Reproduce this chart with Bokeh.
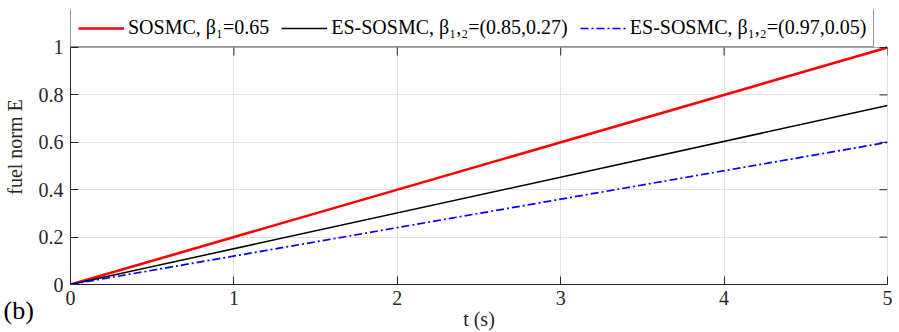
import math
from bokeh.plotting import figure
from bokeh.models import (Legend, LegendItem, FixedTicker, Range1d, Title, BoxAnnotation)
from bokeh.embed import file_html
from bokeh.resources import INLINE

# ---- data ----
t = [0, 5]
sosmc = [0, 1.0]
es_sosmc_a = [0, 0.755]
es_sosmc_b = [0, 0.60]
x_ticks = [0, 1, 2, 3, 4, 5]
x_tick_labels = ["0", "1", "2", "3", "4", "5"]
y_ticks = [0, 0.2, 0.4, 0.6, 0.8, 1.0]
y_tick_labels = ["0", "0.2", "0.4", "0.6", "0.8", "1"]
series_labels = ["SOSMC, β\u2081=0.65",
                 "ES-SOSMC, β\u2081,\u2082=(0.85,0.27)",
                 "ES-SOSMC, β\u2081,\u2082=(0.97,0.05)"]
x_min, x_max = 0, 5
y_min, y_max = 0, 1

FONT = "Liberation Serif"
AX = "#262626"

p = figure(width=899, height=332, output_backend="svg", toolbar_location=None,
           x_range=Range1d(x_min, x_max), y_range=Range1d(y_min, 1.1603),
           min_border_left=70, min_border_right=12, min_border_top=9, min_border_bottom=48)
p.background_fill_color = "white"
p.border_fill_color = "white"
p.outline_line_color = None

# grid
p.grid.grid_line_color = "#e3e3e3"
p.grid.grid_line_width = 1
p.xgrid.ticker = FixedTicker(ticks=x_ticks)
p.ygrid.ticker = FixedTicker(ticks=y_ticks)

# axes box (top / right edges) around the data area
p.add_layout(BoxAnnotation(left=x_min, right=x_max, bottom=y_min, top=y_max,
                           fill_alpha=0, line_color=AX, line_width=1, level="underlay"))

r1 = p.line(t, sosmc, line_color="#ff0000", line_width=2.6)
r2 = p.line(t, es_sosmc_a, line_color="#000000", line_width=1.5)
r3 = p.line(t, es_sosmc_b, line_color="#0000ff", line_width=1.7, line_dash="8 3 2 3")

# inward ticks on the top and right edges
p.ray(x=x_ticks, y=[y_max] * len(x_ticks), length=8, length_units="screen",
      angle=-math.pi / 2, line_color=AX, line_width=1)
p.ray(x=[x_max] * len(y_ticks), y=y_ticks, length=8, length_units="screen",
      angle=math.pi, line_color=AX, line_width=1)

def style_axis(ax):
    ax.axis_line_color = AX
    ax.major_tick_line_color = AX
    ax.major_tick_in = 8
    ax.major_tick_out = 0
    ax.minor_tick_line_color = None
    ax.major_label_text_font = FONT
    ax.major_label_text_color = AX
    ax.axis_label_text_font = FONT
    ax.axis_label_text_color = AX
    ax.axis_label_text_font_style = "normal"
    ax.major_label_text_font_size = "20px"
    ax.axis_label_text_font_size = "20px"

p.xaxis.ticker = FixedTicker(ticks=x_ticks)
p.yaxis.ticker = FixedTicker(ticks=y_ticks)
p.xaxis.major_label_overrides = dict(zip(x_ticks, x_tick_labels))
p.yaxis.major_label_overrides = dict(zip(y_ticks, y_tick_labels))
style_axis(p.xaxis[0])
style_axis(p.yaxis[0])
p.yaxis.bounds = (y_min, y_max)
p.xaxis.axis_label = "t (s)"
p.yaxis.axis_label = "fuel norm E"
p.xaxis.major_label_standoff = 6
p.xaxis.axis_label_standoff = 0
p.yaxis.major_label_standoff = 7
p.yaxis.axis_label_standoff = 10

legend = Legend(items=[LegendItem(label=series_labels[0], renderers=[r1]),
                       LegendItem(label=series_labels[1], renderers=[r2]),
                       LegendItem(label=series_labels[2], renderers=[r3])],
                orientation="horizontal", location=(0, 237),
                label_text_font=FONT, label_text_font_size="20px", label_text_color="#000000",
                label_height=21, glyph_width=46, label_standoff=4, spacing=12,
                padding=7, margin=0,
                border_line_color=AX, border_line_width=1,
                background_fill_color="white", background_fill_alpha=1.0)
p.add_layout(legend, "center")

# panel label "(b)" in the lower-left corner
p.add_layout(Title(text="(b)", align="left", vertical_align="top", offset=-67, standoff=-74,
                   text_font=FONT, text_font_size="26px", text_font_style="normal",
                   text_color="#000000"), "below")

open("out.html", "w").write(file_html(p, INLINE))
